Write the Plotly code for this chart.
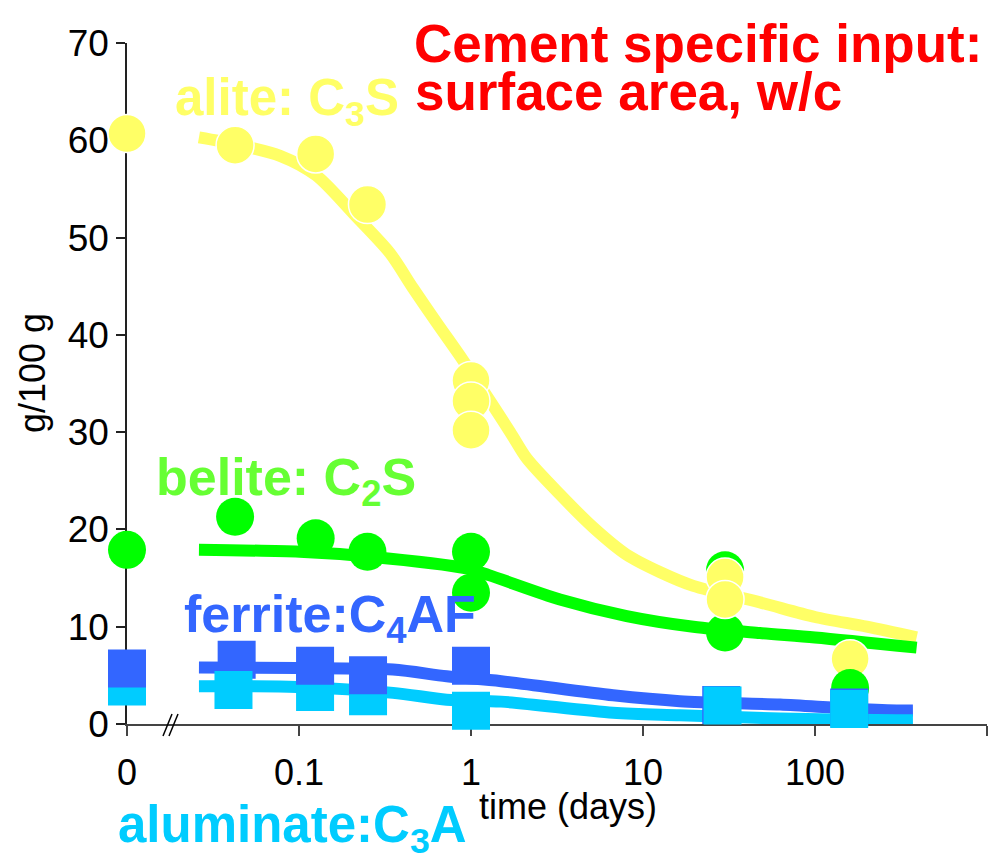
import plotly.graph_objects as go

# ---------------- data ----------------
ZERO_POS = 0.01          # t = 0 is drawn at the axis break position (log axis)

# measured points
alite_t = [0, 0.0425, 0.125, 0.25, 1, 1, 1, 30, 30, 160]
alite_v = [60.7, 59.5, 58.6, 53.4, 35.3, 33.2, 30.2, 15.1, 12.8, 6.7]
alite_top = [True, True, True, True, True, True, True, True, True, False]

belite_t = [0, 0.0425, 0.125, 0.25, 1, 1, 30, 30, 160]
belite_v = [17.9, 21.3, 19.1, 17.7, 17.7, 13.5, 15.8, 9.4, 3.7]
belite_top = [False, False, False, False, False, False, False, False, True]

ferrite_t = [0, 0.0434, 0.124, 0.252, 1, 28.5, 158]
ferrite_v = [5.7, 6.6, 6.0, 5.0, 6.0, 1.95, 1.7]

aluminate_t = [0, 0.0416, 0.124, 0.252, 1, 29, 158]
aluminate_v = [3.85, 3.5, 3.3, 2.85, 1.35, 1.9, 1.55]
aluminate_top = [False, True, False, False, True, True, True]

# model curves
model_alite_t = [0.0262, 0.0425, 0.0776, 0.1256, 0.214, 0.338, 0.46, 0.634, 0.897,
                 1.69, 2.11, 3.29, 5.14, 8.04, 12.6, 19.6, 47.9, 100, 200, 390]
model_alite_v = [60.3, 59.6, 58.4, 56.4, 52.2, 48.4, 44.8, 41.2, 37.4,
                 30.0, 27.3, 23.6, 20.2, 17.4, 15.6, 14.2, 12.5, 11.0, 10.0, 8.9]

model_belite_t = [0.0262, 0.101, 0.26, 0.94, 1.27, 3.29, 8.04, 19.6, 47.9, 100, 390]
model_belite_v = [17.9, 17.7, 17.2, 16.0, 15.3, 12.8, 11.1, 10.0, 9.35, 8.9, 7.85]

model_ferrite_t = [0.0262, 0.097, 0.352, 0.722, 1.5, 6.7, 16.4, 62.7, 153, 298, 371]
model_ferrite_v = [5.8, 5.75, 5.6, 4.9, 4.4, 2.95, 2.35, 2.0, 1.6, 1.4, 1.4]

model_aluminate_t = [0.0262, 0.097, 0.352, 0.722, 1.5, 6.7, 16.4, 62.7, 298, 371]
model_aluminate_v = [3.88, 3.8, 3.2, 2.5, 2.3, 1.15, 0.9, 0.56, 0.39, 0.39]

x_tickvals = [0.01, 0.1, 1, 10, 100, 1000]
x_ticktext = ["0", "0.1", "1", "10", "100", " "]
y_tickvals = [0, 10, 20, 30, 40, 50, 60, 70]

# ---------------- styling ----------------
YELLOW = "#FFFF66"
GREEN = "#00FF00"
GREEN_LBL = "#66FF33"
BLUE = "#3366FF"
CYAN = "#00CCFF"
RED = "#FF0000"
FONT = "Arial, 'Liberation Sans', sans-serif"

W, H = 1007, 857
ML, MR, MT, MB = 127, 20, 43, 133
PW, PH = W - ML - MR, H - MT - MB


def pos(ts):
    return [ZERO_POS if t == 0 else t for t in ts]


def pick(seq, mask, keep):
    return [s for s, m in zip(seq, mask) if m == keep]


def px(x, y):
    """pixel -> paper coordinates (for labels / decorations only)"""
    return (x - ML) / PW, (H - MB - y) / PH


fig = go.Figure()

# model curves
for t, v, c in [(model_alite_t, model_alite_v, YELLOW),
                (model_belite_t, model_belite_v, GREEN),
                (model_ferrite_t, model_ferrite_v, BLUE),
                (model_aluminate_t, model_aluminate_v, CYAN)]:
    fig.add_trace(go.Scatter(x=t, y=v, mode="lines",
                             line=dict(color=c, width=12, shape="spline", smoothing=0.8),
                             hoverinfo="skip", cliponaxis=False))

circ_green = dict(symbol="circle", size=38, color=GREEN, line=dict(width=0))
circ_yellow = dict(symbol="circle", size=38, color=YELLOW, line=dict(color="white", width=1.5))
sq_blue = dict(symbol="square", size=38, color=BLUE, line=dict(width=0))
sq_cyan = dict(symbol="square", size=38, color=CYAN, line=dict(width=0))

# circles (belite below, alite, then belite on top where it overlaps)
fig.add_trace(go.Scatter(x=pos(pick(belite_t, belite_top, False)), y=pick(belite_v, belite_top, False),
                         mode="markers", marker=circ_green, cliponaxis=False))
fig.add_trace(go.Scatter(x=pos(pick(alite_t, alite_top, False)), y=pick(alite_v, alite_top, False),
                         mode="markers", marker=circ_yellow, cliponaxis=False))
fig.add_trace(go.Scatter(x=pos(pick(alite_t, alite_top, True)), y=pick(alite_v, alite_top, True),
                         mode="markers", marker=circ_yellow, cliponaxis=False))
fig.add_trace(go.Scatter(x=pos(pick(belite_t, belite_top, True)), y=pick(belite_v, belite_top, True),
                         mode="markers", marker=circ_green, cliponaxis=False))
# squares
fig.add_trace(go.Scatter(x=pos(pick(aluminate_t, aluminate_top, False)), y=pick(aluminate_v, aluminate_top, False),
                         mode="markers", marker=sq_cyan, cliponaxis=False))
fig.add_trace(go.Scatter(x=pos(ferrite_t), y=ferrite_v, mode="markers", marker=sq_blue, cliponaxis=False))
fig.add_trace(go.Scatter(x=pos(pick(aluminate_t, aluminate_top, True)), y=pick(aluminate_v, aluminate_top, True),
                         mode="markers", marker=sq_cyan, cliponaxis=False))

# ---------------- labels ----------------
def label(text, x_left, baseline, size, color, bold=True):
    ax, ay = px(x_left, baseline - 0.35 * size)
    fig.add_annotation(text=f"<b>{text}</b>" if bold else text, x=ax, y=ay, xref="paper", yref="paper",
                       xanchor="left", yanchor="middle", showarrow=False,
                       font=dict(family=FONT, size=size, color=color))

label("alite: C<sub>3</sub>S", 173, 119, 51, YELLOW)
label("Cement specific input:", 412, 62, 53, RED)
label("surface area, w/c", 413, 110, 53, RED)
label("belite: C<sub>2</sub>S", 154, 499, 52, GREEN_LBL)
label("ferrite:C<sub>4</sub>AF", 182, 636, 52, BLUE)
label("aluminate:C<sub>3</sub>A", 116, 846, 51, CYAN)
label("time (days)", 477, 819, 36, "black", bold=False)

gx, gy = px(32, 373)
fig.add_annotation(text="g/100 g", x=gx, y=gy, xref="paper", yref="paper", textangle=-90,
                   xanchor="center", yanchor="middle", showarrow=False,
                   font=dict(family=FONT, size=36, color="black"))

# axis break "//"
for x0, x1 in [(163, 172), (169, 178)]:
    a0 = px(x0, 736)
    a1 = px(x1, 714)
    fig.add_shape(type="line", xref="paper", yref="paper", x0=a0[0], y0=a0[1], x1=a1[0], y1=a1[1],
                  line=dict(color="black", width=1.5))

fig.update_layout(
    width=W, height=H,
    margin=dict(l=ML, r=MR, t=MT, b=MB),
    paper_bgcolor="white", plot_bgcolor="white",
    showlegend=False,
    font=dict(family=FONT, color="black"),
    xaxis=dict(type="log", range=[-2, 3], tickvals=x_tickvals, ticktext=x_ticktext,
               ticks="outside", ticklen=10, tickwidth=1.5, tickcolor="#444",
               ticklabelstandoff=6,
               showline=True, linecolor="#444", linewidth=1.5,
               showgrid=False, zeroline=False, layer="below traces",
               tickfont=dict(family=FONT, size=36, color="black")),
    yaxis=dict(range=[0, 70], tickvals=y_tickvals,
               ticks="outside", ticklen=9, tickwidth=1.5, tickcolor="#222",
               showline=True, linecolor="#222", linewidth=1.5,
               showgrid=False, zeroline=False, layer="below traces",
               tickfont=dict(family=FONT, size=37, color="black")),
)

fig.write_html("out.html")
